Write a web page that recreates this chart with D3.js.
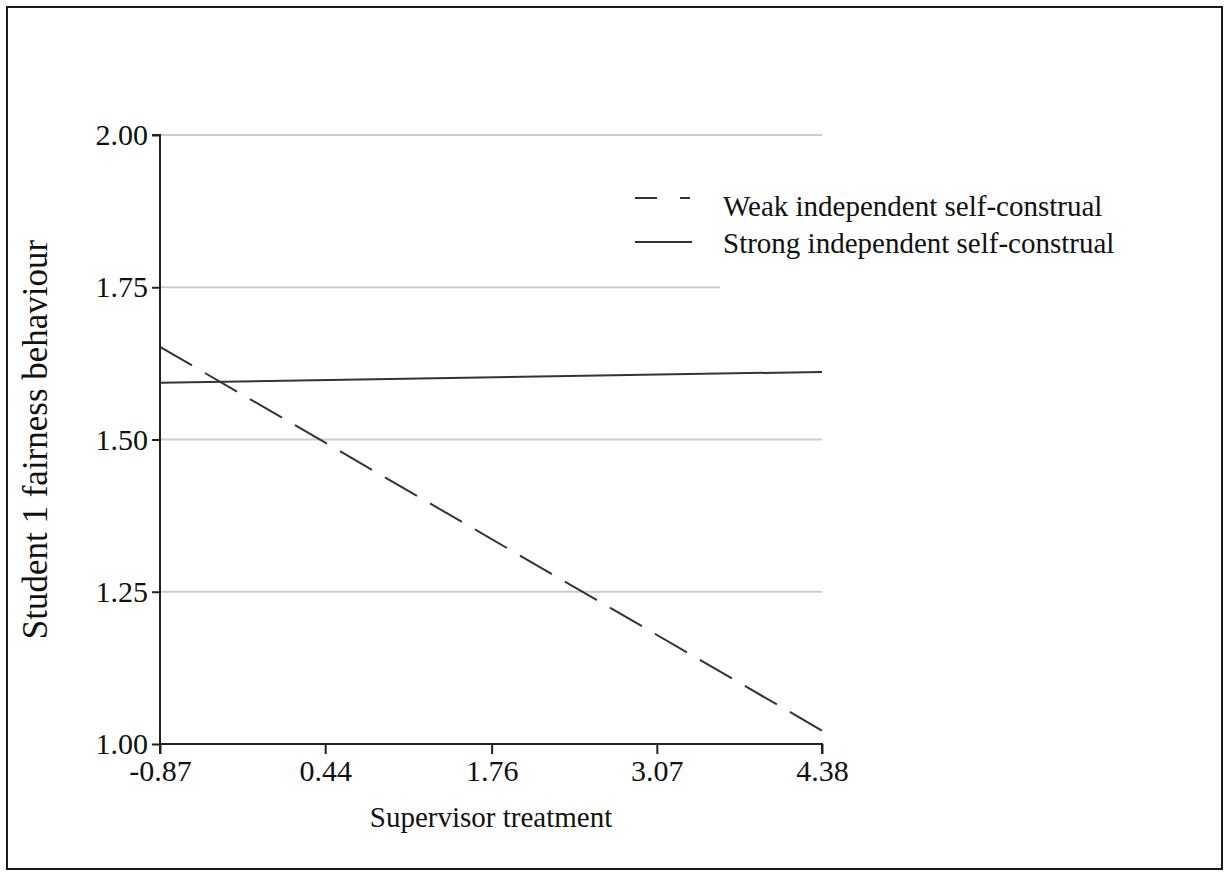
<!DOCTYPE html>
<html>
<head>
<meta charset="utf-8">
<script src="https://cdn.jsdelivr.net/npm/d3@7"></script>
<style>
    body { margin: 0; background: white; }
    svg text { font-family: "Liberation Serif", "Times New Roman", serif; fill: #111; }
</style>
</head>
<body>
<svg id="chart"></svg>
<script>
// data
var xEnds = [-0.87, 4.38]
var xTickValues = [-0.87, 0.44, 1.76, 3.07, 4.38]
var xTickLabels = ["-0.87", "0.44", "1.76", "3.07", "4.38"]
var yTickValues = [1.00, 1.25, 1.50, 1.75, 2.00]
var yTickLabels = ["1.00", "1.25", "1.50", "1.75", "2.00"]
var weakValues = [1.652, 1.022]
var strongValues = [1.593, 1.611]
var seriesNames = ["Weak independent self-construal", "Strong independent self-construal"]

var width = 1225,
    height = 872

var margin = {
    top: 135,
    right: 403,
    bottom: 128,
    left: 160
};

var svg = d3.select("#chart")
    .attr("width", width)
    .attr("height", height)

// outer frame
svg.append("rect")
    .attr("x", 7)
    .attr("y", 7)
    .attr("width", width - 10)
    .attr("height", height - 10)
    .attr("fill", "white")
    .attr("stroke", "#1a1a1a")
    .attr("stroke-width", 2)

var x = d3.scaleLinear()
    .domain(xEnds)
    .range([margin.left, width - margin.right])

var y = d3.scaleLinear()
    .domain([1.00, 2.00])
    .range([height - margin.bottom, margin.top])

// gridlines
svg.append("g")
    .selectAll("line")
    .data(yTickValues.slice(1))
    .enter()
    .append("line")
    .attr("x1", x(xEnds[0]))
    .attr("x2", x(xEnds[1]))
    .attr("y1", (d) => y(d))
    .attr("y2", (d) => y(d))
    .attr("stroke", "#cccccc")
    .attr("stroke-width", 2)

// legend background hides part of the grid
var legend = svg.append("g")
    .attr("transform", "translate(635, 198)")

legend.append("rect")
    .attr("x", 85)
    .attr("y", -28)
    .attr("width", 410)
    .attr("height", 126)
    .attr("fill", "white")

// lines
var line = d3.line()
    .x((d) => x(d[0]))
    .y((d) => y(d[1]))

svg.append("path")
    .datum(d3.zip(xEnds, weakValues))
    .attr("d", line)
    .attr("fill", "none")
    .attr("stroke", "#333")
    .attr("stroke-width", 2)
    .attr("stroke-dasharray", "37,15")

svg.append("path")
    .datum(d3.zip(xEnds, strongValues))
    .attr("d", line)
    .attr("fill", "none")
    .attr("stroke", "#333")
    .attr("stroke-width", 2)

// axes
var xAxis = d3.axisBottom(x)
    .tickValues(xTickValues)
    .tickFormat((d, i) => xTickLabels[i])
    .tickSize(10)
    .tickPadding(6)

var yAxis = d3.axisLeft(y)
    .tickValues(yTickValues)
    .tickFormat((d, i) => yTickLabels[i])
    .tickSize(8)
    .tickPadding(4)

var gx = svg.append("g")
    .attr("transform", "translate(0," + y(1.00) + ")")
    .call(xAxis)

var gy = svg.append("g")
    .attr("transform", "translate(" + x(xEnds[0]) + ",0)")
    .call(yAxis)

;[gx, gy].forEach(function (g) {
    g.select(".domain").attr("stroke", "#222").attr("stroke-width", 2)
    g.selectAll(".tick line").attr("stroke", "#222").attr("stroke-width", 2)
    g.selectAll(".tick text")
        .attr("font-family", "Liberation Serif")
        .style("font-size", "30px")
        .attr("fill", "#111")
})
gx.select(".domain").attr("d", "M" + x(xEnds[0]) + ",10V0H" + x(xEnds[1]) + "V10")
gy.select(".domain").attr("d", "M-8," + y(2.00) + "H0V" + y(1.00))

// axis titles
svg.append("text")
    .attr("x", (x(xEnds[0]) + x(xEnds[1])) / 2)
    .attr("y", 827)
    .attr("text-anchor", "middle")
    .style("font-size", "29px")
    .text("Supervisor treatment")

svg.append("text")
    .attr("transform", "translate(47," + (y(1.5)) + ") rotate(-90)")
    .attr("text-anchor", "middle")
    .style("font-size", "35px")
    .text("Student 1 fairness behaviour")

// legend
legend.append("line")
    .attr("x1", 0)
    .attr("x2", 55)
    .attr("y1", 0)
    .attr("y2", 0)
    .attr("stroke", "#333")
    .attr("stroke-width", 2)
    .attr("stroke-dasharray", "22,23")

legend.append("line")
    .attr("x1", 0)
    .attr("x2", 57)
    .attr("y1", 44)
    .attr("y2", 44)
    .attr("stroke", "#333")
    .attr("stroke-width", 2)

legend.selectAll(".label")
    .data(seriesNames)
    .enter()
    .append("text")
    .attr("class", "label")
    .attr("x", 88)
    .attr("y", (d, i) => 18 + i * 37)
    .style("font-size", "29px")
    .text((d) => d)
</script>
</body>
</html>
